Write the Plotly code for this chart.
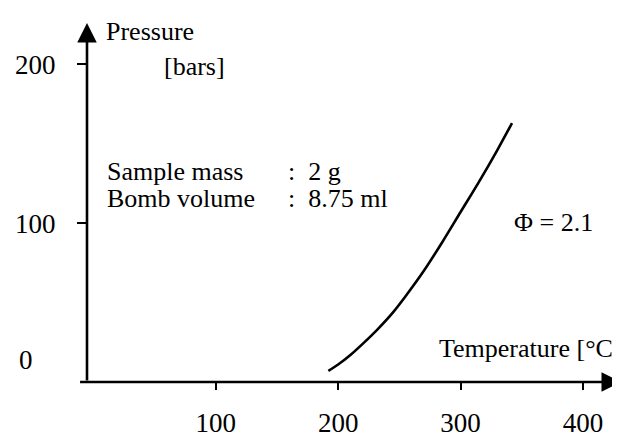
import plotly.graph_objects as go

# Curve data
temperature_c = [192, 200, 210, 220, 232, 245, 257, 270, 285, 300, 315, 330, 342]
pressure_bar = [7, 11, 17, 24, 33, 44, 56, 70, 88, 107, 126, 146, 163]

x_ticks = [100, 200, 300, 400]
x_tick_labels = ["100", "200", "300", "400"]
y_ticks = [100, 200]
y_tick_labels = ["100", "200"]

FONT = "Liberation Serif"
XMIN, XMAX = -5.1, 431
YMIN, YMAX = 0, 226

fig = go.Figure()
fig.add_trace(go.Scatter(
    x=temperature_c, y=pressure_bar, mode="lines",
    line=dict(color="black", width=2.6, shape="spline"),
    hoverinfo="skip", showlegend=False,
))

fig.update_layout(
    width=620, height=437,
    margin=dict(l=78, r=7, t=15, b=48),
    paper_bgcolor="white", plot_bgcolor="white",
    font=dict(family=FONT, size=26, color="black"),
    showlegend=False,
    xaxis=dict(range=[XMIN, XMAX], showgrid=False, zeroline=False, showline=False,
               tickvals=x_ticks, ticktext=x_tick_labels, ticks="outside",
               ticklen=7, tickwidth=2, tickcolor="black",
               tickfont=dict(family=FONT, size=27), ticklabelstandoff=10),
    yaxis=dict(range=[YMIN, YMAX], showgrid=False, zeroline=False, showline=False,
               tickvals=y_ticks, ticktext=y_tick_labels, ticks="outside",
               ticklen=9, tickwidth=2, tickcolor="black",
               tickfont=dict(family=FONT, size=27), ticklabelstandoff=16),
)

ann = []
# axes with arrows
ann.append(dict(x=XMAX, y=0, ax=-12, ay=0, xref="x", yref="y", axref="x", ayref="y",
                text="", showarrow=True, arrowhead=2, arrowsize=1.5, arrowwidth=2.6,
                arrowcolor="black"))
ann.append(dict(x=XMIN, y=YMAX, ax=XMIN, ay=0, xref="x", yref="y", axref="x", ayref="y",
                text="", showarrow=True, arrowhead=2, arrowsize=1.5, arrowwidth=2.6,
                arrowcolor="black"))

# convert pixel positions to paper coords relative to plot area
def paper(xp, yp):
    return (xp - 78) / 535, (389 - yp) / 374

def txt(text, xp, yp, xanchor="left", yanchor="middle", size=26):
    px, py = paper(xp, yp)
    return dict(text=text, x=px, y=py, xref="paper", yref="paper",
                xanchor=xanchor, yanchor=yanchor, showarrow=False,
                font=dict(family=FONT, size=size, color="black"))

ann.append(txt("0", 8, 366, size=27))
ann.append(txt("Pressure", 95, 24))
ann.append(txt("[bars]", 153, 60))
ann.append(txt("Sample mass", 96, 170))
ann.append(txt("Bomb volume", 96, 198))
ann.append(txt(":  2 g", 277, 170))
ann.append(txt(":  8.75 ml", 277, 198))
ann.append(txt("Φ = 2.1", 504, 223))
ann.append(txt("Temperature [°C]", 616, 354, xanchor="right"))

fig.update_layout(annotations=ann)
fig.write_html("out.html")
